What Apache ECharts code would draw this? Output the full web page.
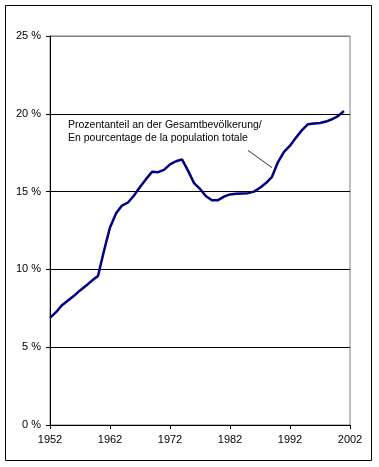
<!DOCTYPE html>
<html><head><meta charset="utf-8">
<script src="https://cdn.jsdelivr.net/npm/echarts@6/dist/echarts.min.js"></script>
<style>html,body{margin:0;padding:0;background:#fff}#c{width:379px;height:467px}</style>
</head><body><div id="c"></div>
<script>
const years = ['1952','1953','1954','1955','1956','1957','1958','1959','1960','1961','1962','1963','1964','1965','1966','1967','1968','1969','1970','1971','1972','1973','1974','1975','1976','1977','1978','1979','1980','1981','1982','1983','1984','1985','1986','1987','1988','1989','1990','1991','1992','1993','1994','1995','1996','1997','1998','1999','2000','2001','2002'];
const share = [6.89,7.25,7.7,8.0,8.3,8.65,8.95,9.28,9.58,11.2,12.7,13.6,14.1,14.3,14.75,15.3,15.8,16.27,16.25,16.4,16.75,16.95,17.07,16.35,15.55,15.17,14.7,14.44,14.45,14.68,14.82,14.86,14.88,14.9,15.0,15.25,15.55,15.95,16.9,17.55,17.95,18.47,18.95,19.33,19.38,19.41,19.5,19.65,19.85,20.18];
const yTicks = [0,5,10,15,20,25];
const labelLines = ['Prozentanteil an der Gesamtbevölkerung/','En pourcentage de la population totale'];
const labelAnchor = [2.83, 19.71];
const leader = [[32.75, 17.65],[36.67, 16.54]];

const font = 'Arial, "Liberation Sans", sans-serif';
const chart = echarts.init(document.getElementById('c'), null, {renderer:'canvas'});
chart.setOption({
  backgroundColor:'#fff',
  animation:false,
  grid:{left:50,right:29,top:36,bottom:42,show:true,borderColor:'#808080',borderWidth:1,backgroundColor:'transparent'},
  xAxis:{type:'category',data:years,boundaryGap:false,
    axisLine:{lineStyle:{color:'#000',width:1}},
    axisTick:{show:true,interval:9,length:4,lineStyle:{color:'#000'}},
    axisLabel:{interval:9,color:'#000',fontFamily:font,fontSize:11,margin:9},
    splitLine:{show:false}},
  yAxis:{type:'value',min:yTicks[0],max:yTicks[yTicks.length-1],interval:5,
    axisLine:{show:true,lineStyle:{color:'#000',width:1}},
    axisTick:{show:true,length:4,lineStyle:{color:'#000'}},
    axisLabel:{color:'#000',fontFamily:font,fontSize:11,margin:9,formatter:v=>v+' %'},
    splitLine:{show:true,lineStyle:{color:['#000','#000','#000','#000','#000','#808080'],width:1}}},
  series:[{type:'line',data:share,symbol:'none',smooth:false,
    lineStyle:{color:'#000080',width:2.5},z:3}]
});
function draw(){
  const p0 = chart.convertToPixel({gridIndex:0}, labelAnchor);
  const a = chart.convertToPixel({gridIndex:0}, leader[0]);
  const b = chart.convertToPixel({gridIndex:0}, leader[1]);
  chart.setOption({graphic:[
    {type:'rect',shape:{x:5.5,y:5.5,width:366,height:455},style:{fill:'none',stroke:'#000',lineWidth:1},silent:true,z:10},
    {type:'text',x:p0[0],y:p0[1],style:{text:labelLines.join('\n'),font:'10.5px '+font,fill:'#000',lineHeight:13,textVerticalAlign:'top'},z:10},
    {type:'line',shape:{x1:a[0],y1:a[1],x2:b[0],y2:b[1]},style:{stroke:'#000',lineWidth:0.8},z:10}
  ]});
}
draw();
</script></body></html>
